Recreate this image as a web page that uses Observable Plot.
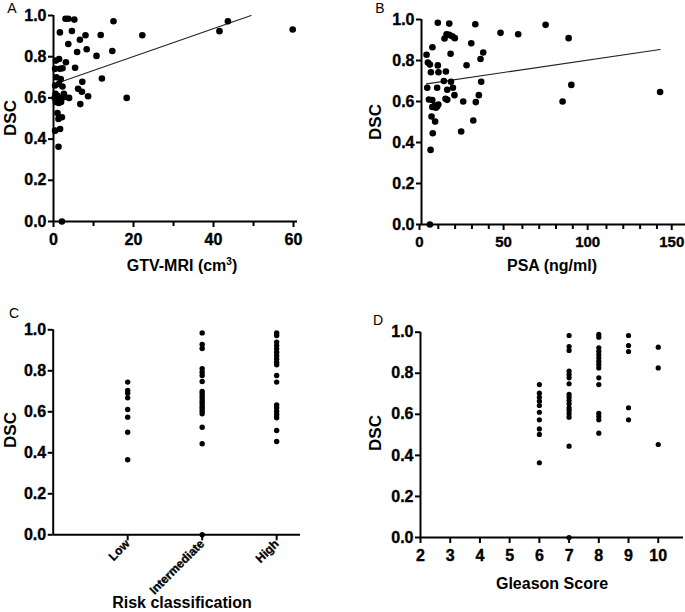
<!DOCTYPE html>
<html><head><meta charset="utf-8">
<script src="https://cdn.jsdelivr.net/npm/d3@7"></script>
<script src="https://cdn.jsdelivr.net/npm/@observablehq/plot@0.6"></script>
<style>
body{margin:0;background:#fff;}
#wrap{position:relative;width:685px;height:612px;font-family:"Liberation Sans",Arial,sans-serif;color:#000;overflow:hidden;}
.p{position:absolute;}
.p text{font-weight:700 !important;font-family:"Liberation Sans",Arial,sans-serif !important;stroke:#000;stroke-width:0.35px;}
.t{position:absolute;transform:translate(-50%,-50%);font-weight:bold;font-size:16px;white-space:nowrap;line-height:1;}
.r{transform:translate(-50%,-50%) rotate(-90deg);font-size:17px;}
.L{position:absolute;transform:translate(-50%,-50%);font-size:14px;line-height:1;}
sup{font-size:10px;vertical-align:6px;line-height:0;}
</style></head><body><div id="wrap"></div>
<script>
// Panel A: GTV-MRI (cm3) vs DSC
const gtvA = [3.0,3.7,5.2,1.6,4.6,8.0,11.8,15.0,22.2,41.5,43.6,59.8,6.6,3.7,8.3,5.9,10.75,14.7,1.4,0.6,3.1,2.25,1.6,0.4,5.4,0.75,1.8,1.4,2.25,7.2,12.1,0.4,6.15,7.1,8.65,3.9,6.7,18.3,0.3,0.6,1.0,1.3,1.7,2.1,2.6,2.8,0.5,1.9,1.1,1.0,2.1,1.25,0.4,1.65,1.25,2.1];
const dscA = [0.984,0.984,0.98,0.918,0.925,0.904,0.905,0.972,0.904,0.924,0.972,0.932,0.882,0.862,0.836,0.823,0.804,0.828,0.789,0.781,0.773,0.744,0.741,0.741,0.746,0.70,0.692,0.668,0.655,0.678,0.694,0.66,0.644,0.63,0.608,0.60,0.57,0.60,0.60,0.58,0.61,0.575,0.59,0.60,0.62,0.605,0.62,0.58,0.595,0.527,0.506,0.498,0.441,0.449,0.363,0.0];
const fitAx = [0.3, 49.4];
const fitAy = [0.667, 1.0];

// Panel B: PSA (ng/ml) vs DSC
const psaB = [5,5.4,6.7,23.6,30.8,5.95,8.1,4.4,6.4,7.9,9.3,6.4,10,8.5,24.8,32.3,34.1,19.6,14.3,15.3,83.9,89.1,141.9,3.4,9.3,15.3,18.7,13.3,17.5,35.5,5.6,10.1,14.5,3.8,5,9.7,26.8,3.0,17.3,35.1,36.7,6.5,29.6,13.7,14.9,16.5,18.3,19.8,9.7,16.5,32,47,57.5,73.8,87.5];
const dscB = [0.0,0.364,0.445,0.454,0.507,0.527,0.502,0.61,0.607,0.58,0.576,0.573,0.585,0.57,0.60,0.597,0.631,0.631,0.613,0.608,0.60,0.681,0.646,0.667,0.667,0.657,0.667,0.70,0.696,0.696,0.743,0.743,0.746,0.79,0.78,0.776,0.777,0.828,0.833,0.807,0.839,0.865,0.884,0.907,0.928,0.925,0.918,0.909,0.984,0.98,0.977,0.935,0.928,0.974,0.909];
const fitBx = [3.0, 141.9];
const fitBy = [0.686, 0.854];

// Panel C: Risk classification
const riskLabels = ["Low", "Intermediate", "High"];
const riskLow = [0.745,0.704,0.69,0.668,0.611,0.574,0.50,0.366];
const riskIntermediate = [0.985,0.928,0.909,0.81,0.793,0.777,0.748,0.699,0.688,0.675,0.663,0.65,0.639,0.626,0.615,0.603,0.59,0.525,0.444,0.0];
const riskHigh = [0.985,0.972,0.94,0.923,0.907,0.891,0.874,0.858,0.842,0.829,0.777,0.745,0.634,0.62,0.603,0.587,0.571,0.509,0.455];

// Panel D: Gleason score
const gleasonTicks = [2,3,4,5,6,7,8,9,10];
const gleason6 = [0.745,0.703,0.683,0.664,0.643,0.61,0.573,0.529,0.502,0.364];
const gleason7 = [0.984,0.930,0.911,0.81,0.794,0.778,0.749,0.697,0.683,0.667,0.651,0.632,0.619,0.603,0.586,0.445,0.0];
const gleason8 = [0.989,0.976,0.924,0.907,0.891,0.875,0.859,0.843,0.826,0.778,0.745,0.605,0.589,0.573,0.508];
const gleason9 = [0.984,0.935,0.906,0.632,0.573];
const gleason10 = [0.927,0.826,0.453];

const yTicks = [0,0.2,0.4,0.6,0.8,1.0];

const wrap = document.getElementById("wrap");
const FONT = '"Liberation Sans", Arial, sans-serif';

function panel(o) {
  const marks = [
    Plot.ruleY([0], {strokeWidth: 2}),
    Plot.ruleX([o.xDomain[0]], {strokeWidth: 2}),
    Plot.axisY({ticks: yTicks, tickFormat: d3.format(".1f"), tickSize: 5, tickPadding: 2, strokeWidth: 2, label: null,
      fontSize: 16, fontWeight: "bold", fontFamily: FONT}),
    Plot.axisX({ticks: o.xTicks, tickFormat: o.xFormat, tickSize: 6, tickPadding: o.tickPadding ?? 6, strokeWidth: 2, label: null,
      tickRotate: o.tickRotate ?? 0, fontSize: o.xFontSize ?? 16, fontWeight: "bold", fontFamily: FONT, dx: o.xdx ?? 0})
  ];
  if (o.minor) marks.push(Plot.axisX({ticks: o.minor, tickFormat: () => "", tickSize: 5, strokeWidth: 2, label: null}));
  if (o.fit) marks.push(Plot.line(o.fit, {x: "x", y: "y", stroke: "#222", strokeWidth: 1.1}));
  marks.push(Plot.dot(o.data, {x: "x", y: "y", r: o.r, fill: "black", stroke: null}));
  const svg = Plot.plot({
    width: o.width, height: o.height,
    marginLeft: o.mL, marginRight: o.mR, marginTop: o.mT, marginBottom: o.mB,
    x: {domain: o.xDomain},
    y: {domain: [0, 1]},
    style: {fontFamily: FONT, fontSize: "16px", fontWeight: "bold", color: "#000", background: "transparent", overflow: "visible"},
    marks
  });
  svg.classList.add("p");
  svg.style.left = o.left + "px";
  svg.style.top = o.top + "px";
  wrap.appendChild(svg);
}

function addText(cls, html, x, y) {
  const d = document.createElement("div");
  d.className = cls;
  d.innerHTML = html;
  d.style.left = x + "px";
  d.style.top = y + "px";
  wrap.appendChild(d);
}

// A
panel({
  data: gtvA.map((x, i) => ({x, y: dscA[i]})),
  fit: fitAx.map((x, i) => ({x, y: fitAy[i]})),
  xDomain: [0, 61], xTicks: [0,20,40,60], minor: [10,30,50], xFormat: d3.format("d"),
  left: 0, top: 0, width: 300, height: 300, mL: 53, mR: 3, mT: 15, mB: 79, r: 3.3
});
// B
panel({
  data: psaB.map((x, i) => ({x, y: dscB[i]})),
  fit: fitBx.map((x, i) => ({x, y: fitBy[i]})),
  xDomain: [0, 157], xTicks: [0,50,100,150], minor: [10,20,30,40,60,70,80,90,110,120,130,140], xFormat: d3.format("d"),
  xFontSize: 15, xdx: -2,
  left: 340, top: 0, width: 345, height: 300, mL: 81, mR: 0, mT: 19, mB: 76, r: 3.3
});
// C
const riskData = [riskLow, riskIntermediate, riskHigh].flatMap((arr, i) => arr.map(v => ({x: i + 1, y: v})));
panel({
  data: riskData,
  xDomain: [0, 3.32], xTicks: [1,2,3], xFormat: d => riskLabels[d - 1],
  tickRotate: -45, xFontSize: 12, tickPadding: 1,
  left: 0, top: 300, width: 300, height: 312, mL: 52.7, mR: 0, mT: 29.3, mB: 77.7, r: 2.7
});
// D
const gData = [[6, gleason6],[7, gleason7],[8, gleason8],[9, gleason9],[10, gleason10]].flatMap(([g, arr]) => arr.map(v => ({x: g, y: v})));
panel({
  data: gData,
  xDomain: [2, 10.85], xTicks: gleasonTicks, xFormat: d3.format("d"),
  left: 340, top: 300, width: 345, height: 312, mL: 80, mR: 2, mT: 31.7, mB: 75, r: 2.6
});

// titles
addText("t", "GTV-MRI (cm<sup>3</sup>)", 182, 266);
addText("t r", "DSC", 10, 118);
addText("t", "PSA (ng/ml)", 552, 266);
addText("t r", "DSC", 375, 122);
addText("t", "Risk classification", 182, 603);
addText("t r", "DSC", 10, 430);
addText("t", "Gleason Score", 552, 584);
addText("t r", "DSC", 375, 433);
addText("L", "A", 12, 8);
addText("L", "B", 380, 8);
addText("L", "C", 14, 313);
addText("L", "D", 378, 320);
</script></body></html>
